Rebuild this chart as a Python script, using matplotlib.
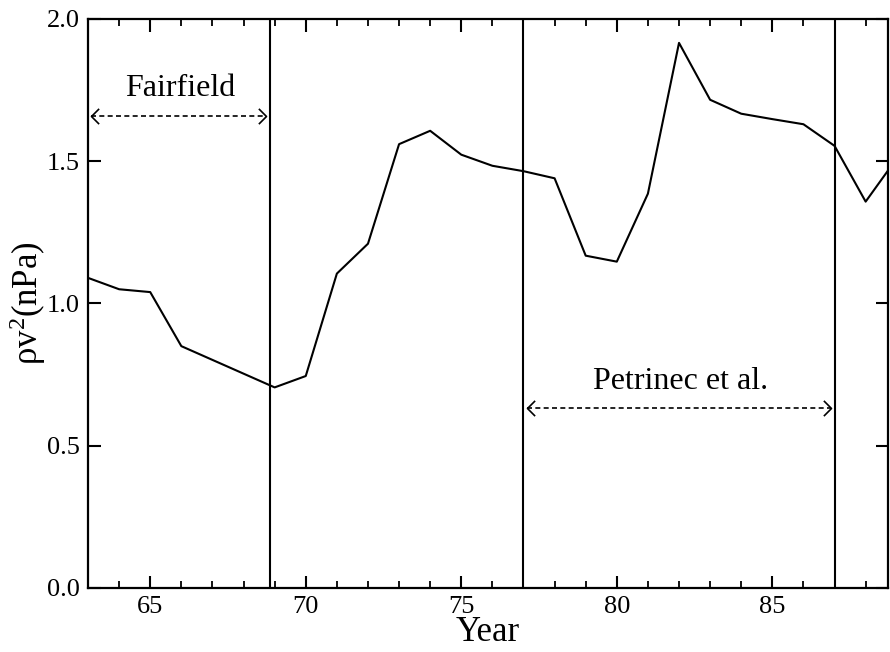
import numpy as np
import matplotlib
matplotlib.use("Agg")
import matplotlib.pyplot as plt
from matplotlib.ticker import MultipleLocator, FormatStrFormatter
from matplotlib.path import Path

#=====================data===============
# annual mean dynamic pressure, years 19xx (no values for 67-68)
year = [63, 64, 65, 66, 69, 70, 71, 72, 73, 74, 75, 76, 77, 78, 79, 80, 81, 82, 83, 84, 85, 86, 87, 88, 89]
pdyn = [1.09, 1.05, 1.04, 0.85, 0.705, 0.745, 1.105, 1.21, 1.56, 1.607, 1.523, 1.484, 1.465, 1.44,
        1.168, 1.147, 1.386, 1.916, 1.716, 1.667, 1.648, 1.63, 1.554, 1.358, 1.51]

# boundaries of the two data intervals
fair_span = [63.0, 68.85]
petr_span = [77.0, 87.0]
fair_label = "Fairfield"
petr_label = "Petrinec et al."

#=====================plot===============
plt.rcParams['font.family'] = ['Liberation Serif', 'DejaVu Serif']
plt.rcParams['mathtext.fontset'] = 'custom'
plt.rcParams['mathtext.rm'] = 'Liberation Serif'
plt.rcParams['mathtext.it'] = 'Liberation Serif:italic'

# open chevrons for the arrow ends
left_head = Path([(1, 1), (0, 0), (1, -1)], [Path.MOVETO, Path.LINETO, Path.LINETO])
right_head = Path([(-1, 1), (0, 0), (-1, -1)], [Path.MOVETO, Path.LINETO, Path.LINETO])


def span_arrow(ax, x0, x1, y):
    ax.plot([x0, x1], [y, y], color='black', linestyle=(0, (3, 2)), linewidth=1.2)
    ax.plot([x0], [y], marker=left_head, markersize=11, mfc='none', mec='black', mew=1.2)
    ax.plot([x1], [y], marker=right_head, markersize=11, mfc='none', mec='black', mew=1.2)


fig = plt.figure(figsize=(8.9, 6.52), dpi=100)
ax = fig.add_axes([0.0989, 0.0982, 0.8989, 0.8727])

ax.plot(year, pdyn, color='black', linewidth=1.5)

# interval boundaries
for xv in [fair_span[1], petr_span[0], petr_span[1]]:
    ax.axvline(xv, color='black', linewidth=1.5)

# dashed double arrows with labels
span_arrow(ax, fair_span[0] + 0.1, fair_span[1] - 0.12, 1.66)
ax.text(65.95, 1.73, fair_label, fontsize=23, ha='center', va='baseline')

span_arrow(ax, petr_span[0] + 0.1, petr_span[1] - 0.1, 0.632)
ax.text(82.05, 0.698, petr_label, fontsize=23, ha='center', va='baseline')

ax.set_xlim(63, 88.72)
ax.set_ylim(0, 2.0)

ax.xaxis.set_major_locator(MultipleLocator(5))
ax.xaxis.set_minor_locator(MultipleLocator(1))
ax.yaxis.set_major_locator(MultipleLocator(0.5))
ax.yaxis.set_major_formatter(FormatStrFormatter('%.1f'))

ax.tick_params(axis='both', which='major', direction='in', length=9, width=1.5,
               labelsize=19, top=True, right=True, pad=6)
ax.tick_params(axis='x', which='minor', direction='in', length=5, width=1.3, top=True)
for s in ax.spines.values():
    s.set_linewidth(1.6)

ax.set_xlabel('Year', fontsize=25, labelpad=-2)
ax.set_ylabel('ρv$^{2}$(nPa)', fontsize=25, labelpad=-1)

plt.savefig('out.png', dpi=100)
